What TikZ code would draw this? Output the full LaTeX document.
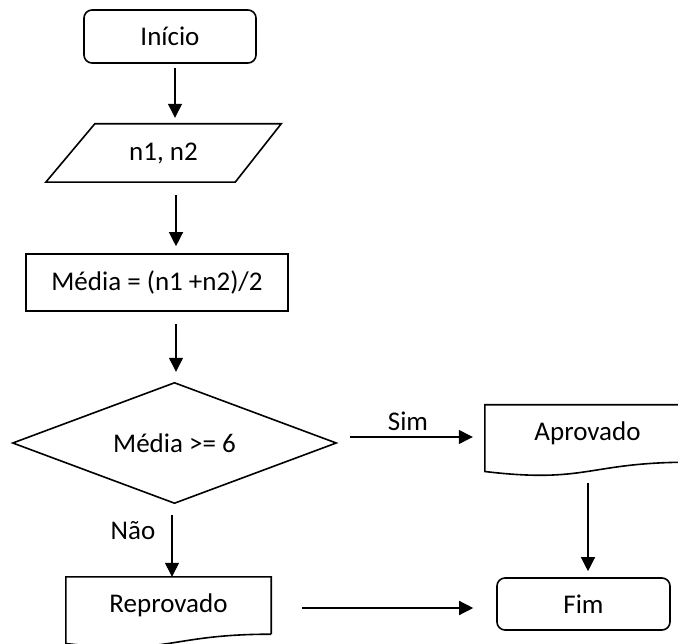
\documentclass[tikz,border=0pt]{standalone}
\usepackage{fontspec}
\setmainfont{Carlito}
\usetikzlibrary{arrows.meta,calc}
\begin{document}
\begin{tikzpicture}[x=1pt,y=-1pt,
  font=\fontsize{27}{32}\selectfont,
  shp/.style={line width=1.6pt},
  term/.style={draw,shp,rounded corners=8pt,inner sep=0pt},
  box/.style={inner sep=0pt},
  arr/.style={line width=1.3pt,-{Triangle[length=14pt,width=14pt]}},
  lbl/.style={inner sep=0pt}]
\clip (0,0) rectangle (678,644);
\fill[white] (0,0) rectangle (678,644);
% nodes
\node[term,minimum width=172pt,minimum height=53pt] (ini) at (170,36.5) {Início};
\node[box,minimum width=235pt,minimum height=58pt] (inp) at (163.5,153) {n1, n2};
\draw[shp] (inp.south west) -- ($(inp.south east)+(-46,0)$) -- (inp.north east) -- ($(inp.north west)+(49,0)$) -- cycle;
\node[draw,shp,inner sep=0pt,minimum width=262pt,minimum height=57pt] (med) at (157,282.5) {Média = (n1 +n2)/2};
\node[box,minimum width=323pt,minimum height=120pt] (dec) at (174.5,443) {Média >= 6};
\draw[shp] (dec.north) -- (dec.east) -- (dec.south) -- (dec.west) -- cycle;
\node[box,minimum width=205pt,minimum height=57pt] (apr) at (587.5,433.5) {Aprovado};
\draw[shp] (apr.south east) -- (apr.north east) -- (apr.north west) -- ($(apr.south west)+(0,9.3)$)
  .. controls ($(apr.south)+(0,21.6)$) and (apr.south) .. (apr.south east);
\node[box,minimum width=205pt,minimum height=57pt] (rep) at (168.5,605.5) {Reprovado};
\draw[shp] (rep.south east) -- (rep.north east) -- (rep.north west) -- ($(rep.south west)+(0,9.3)$)
  .. controls ($(rep.south)+(0,21.6)$) and (rep.south) .. (rep.south east);
\node[term,minimum width=173pt,minimum height=52pt] (fim) at (583.5,604) {Fim};
% labels
\node[lbl] (sim) at (408,421) {Sim};
\node[lbl] (nao) at (133,531) {Não};
% column coordinates
\coordinate (c1) at (175,0);
\coordinate (c2) at (176,0);
\coordinate (c3) at (172,0);
\coordinate (c4) at (588,0);
\coordinate (r1) at (0,437);
\coordinate (r2) at (0,608);
% connectors
\draw[arr,shorten <=4pt,shorten >=6pt] (ini.south -| c1) -- (inp.north -| c1);
\draw[arr,shorten <=13pt,shorten >=7pt] (inp.south -| c2) -- (med.north -| c2);
\draw[arr,shorten <=12pt,shorten >=11pt] (med.south -| c2) -- (dec.north -| c2);
\draw[arr,shorten <=12pt,shorten >=0pt] (dec.south -| c3) -- (rep.north -| c3);
\draw[arr,shorten <=14pt,shorten >=12pt] (dec.east |- r1) -- (apr.west |- r1);
\draw[arr,shorten <=31pt,shorten >=23pt] (rep.east |- r2) -- (fim.west |- r2);
\draw[arr,shorten <=21pt,shorten >=6pt] (apr.south -| c4) -- (fim.north -| c4);
\end{tikzpicture}
\end{document}
